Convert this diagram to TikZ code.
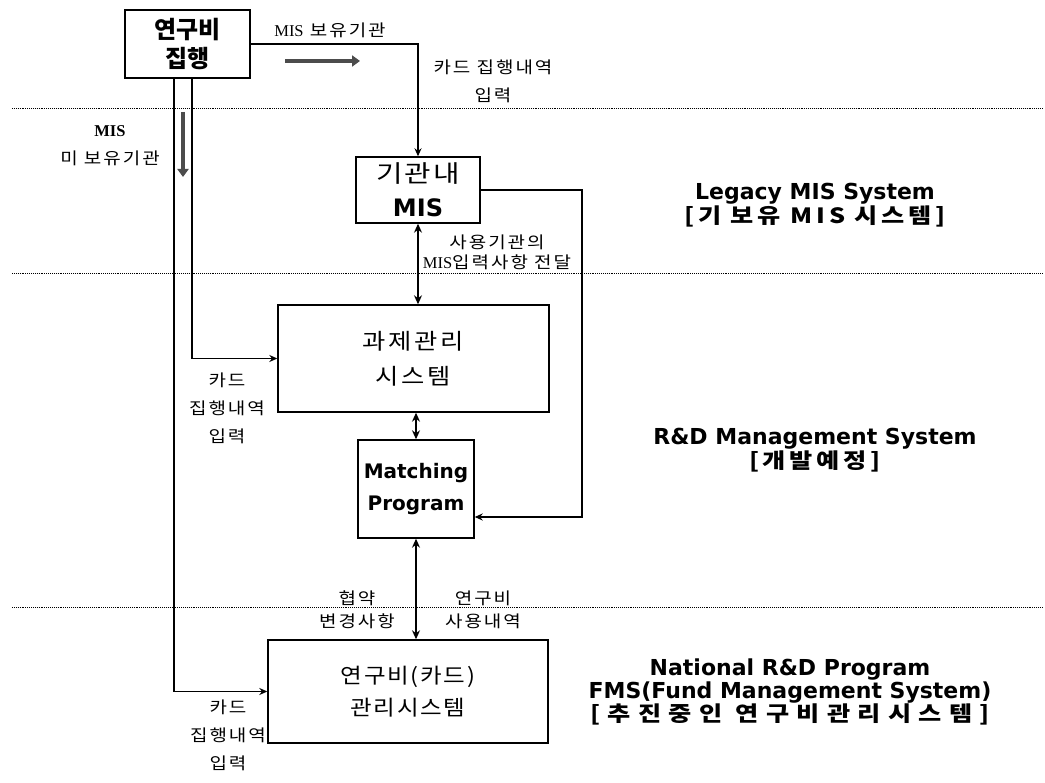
\documentclass[tikz,border=0pt]{standalone}
\usepackage{fontspec}
\setmainfont{Noto Sans CJK KR}
\newfontfamily\krs{Noto Sans CJK KR}[FakeStretch=1.15,LetterSpace=12]
\newfontfamily\krb{Noto Sans CJK KR}[FakeStretch=1.15,LetterSpace=12]
\newfontfamily\kre{Noto Sans CJK KR}[FakeStretch=1.12,LetterSpace=8]
\newfontfamily\krm{Noto Sans CJK KR}[FakeStretch=1.2,LetterSpace=8]
\newfontfamily\krr{Noto Sans CJK KR}[FakeStretch=1.2,LetterSpace=18]
\newfontfamily\krw{Noto Sans CJK KR}[FakeStretch=1.2,LetterSpace=35]
\newfontfamily\enb{DejaVu Sans}
\newfontfamily\tms{Liberation Serif}
\usetikzlibrary{arrows.meta,calc}
\begin{document}
\begin{tikzpicture}[x=1pt,y=-1pt,
  box/.style={draw, line width=1.4pt, inner sep=0pt, align=center},
  conn/.style={line width=1.3pt, -{Stealth[length=8pt,width=7pt]}},
  dconn/.style={line width=1.3pt, {Stealth[length=9pt,width=8pt]}-{Stealth[length=9pt,width=8pt]}},
  hatch/.style={line width=4pt, black!70, -{Triangle[length=8pt,width=11pt]}},
  sep/.style={densely dotted, line width=0.9pt},
  lbl/.style={align=center, inner sep=0pt, font=\krs\fontsize{16.5}{28}\selectfont},
  side/.style={align=center, inner sep=0pt}
]
\useasboundingbox (0,0) rectangle (1045,783);
\fill[white] (0,0) rectangle (1045,783);

% separators
\coordinate (s1a) at (12,108);  \coordinate (s1b) at (1042,108);
\coordinate (s2a) at (12,273);  \coordinate (s2b) at (1042,273);
\coordinate (s3a) at (12,607);  \coordinate (s3b) at (1042,607);
\draw[sep] (s1a) -- (s1b);
\draw[sep] (s2a) -- (s2b);
\draw[sep] (s3a) -- (s3b);

% boxes
\node[box, minimum width=125pt, minimum height=68pt, font=\bfseries\fontsize{24}{29}\selectfont] (A) at (187.5,44) {연구비\\집행};
\node[box, minimum width=124pt, minimum height=66pt, font=\fontsize{24}{34}\selectfont] (B) at (418,190) {{\krm 기관내}\\{\enb\bfseries\fontsize{24}{34}\selectfont MIS}};
\node[box, minimum width=271pt, minimum height=107pt, font=\krb\fontsize{22}{35}\selectfont] (C) at (413.5,358.5) {과제관리\\시스템};
\node[box, minimum width=116pt, minimum height=98pt, font=\enb\bfseries\fontsize{20}{32}\selectfont] (D) at (416,489) {Matching\\Program};
\node[box, minimum width=280pt, minimum height=103pt, font=\kre\fontsize{21}{32}\selectfont] (E) at (408,691.5) {연구비(카드)\\관리시스템};

% connectors
\draw[conn] (A.east) -| (B.north);
\draw[conn] ([xshift=4.5pt]A.south) |- (C.west);
\draw[conn] ([xshift=-13.5pt]A.south) |- (E.west);
\draw[dconn] (B.south) -- (B.south |- C.north);
\draw[dconn] (D.north |- C.south) -- (D.north);
\draw[dconn] (D.south) -- (D.south |- E.north);
\coordinate (R) at (582,517);
\draw[conn] (B.east) -| (R) -- (R -| D.east);

% hatched arrows
\coordinate (h1) at (285,61); \coordinate (h2) at (360,61);
\draw[hatch] (h1) -- (h2);
\coordinate (v1) at (183,112); \coordinate (v2) at (183,177);
\draw[hatch] (v1) -- (v2);

% small labels
\node[lbl] (l1) at (330,30) {{\tms MIS} 보유기관};
\node[lbl] (l2) at (493,81) {카드 집행내역\\입력};
\node[lbl] (l3) at (110,146) {{\tms\bfseries MIS}\\미 보유기관};
\node[lbl, font=\krs\fontsize{16.5}{20}\selectfont] (l4) at (497,252) {사용기관의\\{\tms MIS}입력사항 전달};
\node[lbl] (l5) at (227,408) {카드\\집행내역\\입력};
\node[lbl, font=\krs\fontsize{16.5}{23}\selectfont] (l6) at (357,610) {협약\\변경사항};
\node[lbl, font=\krs\fontsize{16.5}{23}\selectfont] (l7) at (483,610) {연구비\\사용내역};
\node[lbl] (l8) at (228,735) {카드\\집행내역\\입력};

% side labels
\node[side] (t1) at (815,205) {{\enb\bfseries\fontsize{22}{25}\selectfont Legacy MIS System}\\{\krr\bfseries\fontsize{21}{25}\selectfont [기 보유 MIS 시스템]}};
\node[side] (t2) at (815,450) {{\enb\bfseries\fontsize{22}{25}\selectfont R\&D Management System}\\{\krr\bfseries\fontsize{21}{25}\selectfont [개발예정]}};
\node[side] (t3) at (790,692) {{\enb\bfseries\fontsize{22}{23}\selectfont National R\&D Program}\\{\enb\bfseries\fontsize{22}{23}\selectfont FMS(Fund Management System)}\\{\krw\bfseries\fontsize{21}{24}\selectfont [추진중인 연구비관리시스템]}};
\end{tikzpicture}
\end{document}
